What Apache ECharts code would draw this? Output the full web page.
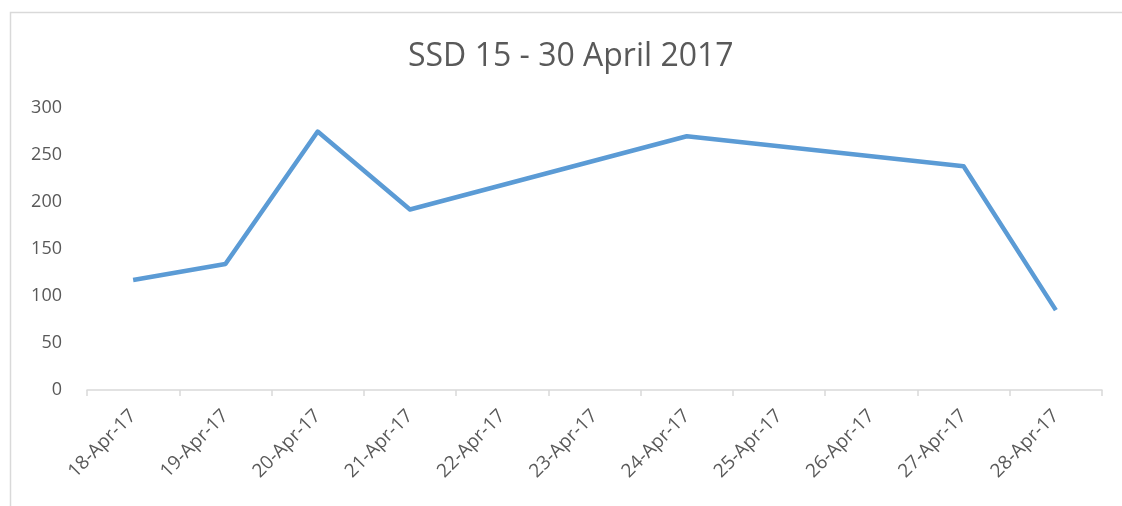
<!DOCTYPE html>
<html>
<head>
<meta charset="utf-8">
<script src="https://cdn.jsdelivr.net/npm/echarts@6/dist/echarts.min.js"></script>
<style>
html,body{margin:0;padding:0;background:#fff;}
#chart{width:1122px;height:506px;}
</style>
</head>
<body>
<div id="chart"></div>
<script>
var titleText = 'SSD 15 - 30 April 2017';
var categories = ['18-Apr-17','19-Apr-17','20-Apr-17','21-Apr-17','22-Apr-17','23-Apr-17','24-Apr-17','25-Apr-17','26-Apr-17','27-Apr-17','28-Apr-17'];
var ssdValues = [117, 134, 275, 192, null, null, 270, null, null, 238, 85];
var yTicks = {min: 0, max: 300, interval: 50};

var chart = echarts.init(document.getElementById('chart'), null, {renderer: 'canvas'});
var fontFam = '"Open Sans", "Liberation Sans", sans-serif';
chart.setOption({
  animation: false,
  backgroundColor: '#ffffff',
  graphic: [{
    type: 'rect',
    shape: {x: 10.5, y: 12.5, width: 1200, height: 600},
    style: {fill: 'none', stroke: '#d9d9d9', lineWidth: 1.5},
    silent: true
  }],
  title: {
    text: titleText,
    left: 403,
    top: 36,
    textStyle: {color: '#595959', fontSize: 32, fontWeight: 'normal', fontFamily: fontFam}
  },
  grid: {left: 87, right: 20, top: 108, bottom: 116, containLabel: false},
  xAxis: {
    type: 'category',
    data: categories,
    boundaryGap: true,
    axisLine: {show: true, lineStyle: {color: '#d9d9d9', width: 1.5}},
    axisTick: {show: true, interval: 0, length: 6, lineStyle: {color: '#d9d9d9', width: 1.5}},
    axisLabel: {interval: 0, rotate: 45, margin: 23, color: '#595959', fontSize: 19, fontFamily: fontFam},
    splitLine: {show: false}
  },
  yAxis: {
    type: 'value',
    min: yTicks.min,
    max: yTicks.max,
    interval: yTicks.interval,
    axisLine: {show: false},
    axisTick: {show: false},
    splitLine: {show: false},
    axisLabel: {margin: 25, color: '#595959', fontSize: 18, fontFamily: fontFam}
  },
  series: [{
    type: 'line',
    data: ssdValues,
    connectNulls: true,
    showSymbol: false,
    symbol: 'none',
    lineStyle: {color: '#5b9bd5', width: 4.5, join: 'round'},
    itemStyle: {color: '#5b9bd5'}
  }]
});
</script>
</body>
</html>
